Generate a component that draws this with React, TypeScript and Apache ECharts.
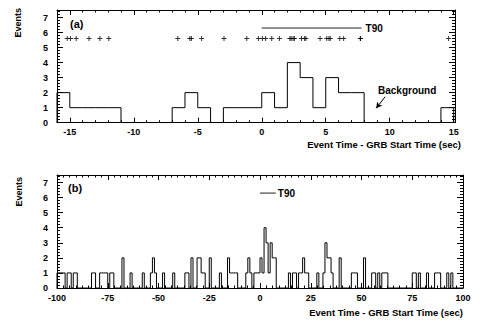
import React, { useEffect, useRef } from "react";
import * as echarts from "echarts";

// ---------- data ----------
// Panel (a): 1-s bins starting at -16 s
const topBinStart = -16;
const topCounts = [2, 1, 1, 1, 1, 0, 0, 0, 0, 1, 2, 1, 0, 1, 1, 1, 2, 1, 4, 3, 1, 3, 2, 2, 0, 0, 0, 0, 0, 0, 1];
// individual event times (crosses in panel a)
const eventTimes = [
  -15.2, -14.95, -14.5, -13.5, -12.65, -11.95, -6.56, -5.62, -5.5, -4.7, -2.95, -1.17, -0.26, 0.05, 0.3, 0.78,
  1.38, 2.2, 2.3, 2.45, 2.55, 3.1, 3.35, 3.45, 4.56, 5.08, 5.25, 5.35, 6.1, 6.4, 7.7, 7.72, 14.6,
];
const crossRowY = 5.6;
const t90Interval = [0, 7.8];
const t90RowY = 6.3;
// Panel (b): 1-s bins from -100 to 100, only non-empty bins listed [binStart, count]
const bottomNonZero: [number, number][] = [
  [-100, 1], [-99, 1], [-98, 1], [-97, 1], [-95, 1], [-94, 1], [-92, 1], [-91, 1],
  [-83, 1], [-82, 1], [-79, 1], [-78, 1], [-77, 1], [-76, 1], [-74, 1], [-73, 1],
  [-68, 2], [-64, 1], [-58, 1], [-54, 1], [-53, 2], [-52, 1], [-48, 1], [-43, 1],
  [-37, 1], [-36, 1], [-34, 2], [-31, 2], [-30, 2], [-29, 1], [-28, 1], [-25, 2], [-20, 1],
  [-16, 2], [-15, 1], [-14, 1], [-13, 1], [-12, 1], [-7, 1], [-6, 2], [-5, 1], [-3, 1], [-2, 1], [-1, 1],
  [0, 2], [1, 1], [2, 4], [3, 3], [4, 1], [5, 3], [6, 2], [7, 2], [14, 1], [16, 1], [17, 1],
  [19, 1], [20, 1], [21, 2], [22, 1], [23, 1], [28, 1], [31, 1], [32, 3], [33, 2], [34, 2], [35, 1],
  [39, 2], [45, 1], [46, 1], [47, 1], [51, 2], [55, 1], [56, 1], [58, 1], [60, 1], [61, 1], [62, 1],
  [75, 1], [76, 1], [78, 1], [82, 1], [86, 1], [87, 1], [88, 1], [92, 1], [94, 1],
];
const bottomBinStart = -100;
const bottomBinCount = 200;
// arrow for the "Background" annotation (data coords, panel a)
const backgroundArrow = [[9.64, 1.73], [8.94, 0.96]];

// ---------- axes ticks ----------
const topXRange = [-16, 15.1];
const bottomXRange = [-100, 100];
const yRange = [0, 7.5];
const topXMajor = [-15, -10, -5, 0, 5, 10, 15];
const bottomXMajor = [-100, -75, -50, -25, 0, 25, 50, 75, 100];
const yMajor = [0, 1, 2, 3, 4, 5, 6, 7];

function range(a: number, b: number, step: number) {
  const out: number[] = [];
  for (let v = a; v <= b + 1e-9; v += step) out.push(Math.round(v * 1000) / 1000);
  return out;
}
const topXMinor = range(-16, 15, 1);
const bottomXMinor = range(-100, 100, 25 / 8);
const yMinor = range(0, 7.4, 0.2);

function stepData(start: number, counts: number[]) {
  const d: number[][] = [[start, 0]];
  counts.forEach((c, i) => d.push([start + i, c]));
  d.push([start + counts.length, counts[counts.length - 1]]);
  d.push([start + counts.length, 0]);
  return d;
}

const bottomCounts = new Array(bottomBinCount).fill(0);
bottomNonZero.forEach(([b, c]) => {
  bottomCounts[b - bottomBinStart] = c;
});

const FONT = "Liberation Sans";
const black = "#000";
const labelFont = { fontFamily: FONT, fontWeight: "bold", fontSize: 9, color: black };

function xAxes(grid: number, r: number[], majors: number[], minors: number[]) {
  const base = { type: "value", gridIndex: grid, min: r[0], max: r[1], splitLine: { show: false } };
  const line = { show: true, onZero: false, lineStyle: { color: black, width: 1 } };
  const noLine = { show: false, onZero: false };
  return [
    { ...base, position: "bottom", axisLine: line, axisTick: { show: true, inside: true, length: 5, customValues: majors, lineStyle: { color: black } }, axisLabel: { show: true, customValues: majors, margin: 5, ...labelFont } },
    { ...base, position: "bottom", axisLine: noLine, axisTick: { show: true, inside: true, length: 2.5, customValues: minors, lineStyle: { color: black } }, axisLabel: { show: false } },
    { ...base, position: "top", axisLine: line, axisTick: { show: true, inside: true, length: 5, customValues: majors, lineStyle: { color: black } }, axisLabel: { show: false } },
    { ...base, position: "top", axisLine: noLine, axisTick: { show: true, inside: true, length: 2.5, customValues: minors, lineStyle: { color: black } }, axisLabel: { show: false } },
  ];
}
function yAxes(grid: number) {
  const base = { type: "value", gridIndex: grid, min: yRange[0], max: yRange[1], splitLine: { show: false } };
  const line = { show: true, onZero: false, lineStyle: { color: black, width: 1 } };
  const noLine = { show: false, onZero: false };
  return [
    { ...base, position: "left", axisLine: line, axisTick: { show: true, inside: true, length: 6, customValues: yMajor, lineStyle: { color: black } }, axisLabel: { show: true, customValues: yMajor, margin: 9, ...labelFont } },
    { ...base, position: "left", axisLine: noLine, axisTick: { show: true, inside: true, length: 3, customValues: yMinor, lineStyle: { color: black } }, axisLabel: { show: false } },
    { ...base, position: "right", axisLine: line, axisTick: { show: true, inside: true, length: 6, customValues: yMajor, lineStyle: { color: black } }, axisLabel: { show: false } },
    { ...base, position: "right", axisLine: noLine, axisTick: { show: true, inside: true, length: 3, customValues: yMinor, lineStyle: { color: black } }, axisLabel: { show: false } },
  ];
}

const xTitle = "Event Time - GRB Start Time (sec)";

const option: any = {
  animation: false,
  backgroundColor: "#fff",
  grid: [
    { left: 57, top: 10, width: 398, height: 112.7, containLabel: false },
    { left: 57, top: 175, width: 406, height: 113, containLabel: false },
  ],
  xAxis: [...xAxes(0, topXRange, topXMajor, topXMinor), ...xAxes(1, bottomXRange, bottomXMajor, bottomXMinor)],
  yAxis: [...yAxes(0), ...yAxes(1)],
  series: [
    {
      type: "line", xAxisIndex: 0, yAxisIndex: 0, step: "end", symbol: "none",
      lineStyle: { color: black, width: 1 }, data: stepData(topBinStart, topCounts),
      markLine: {
        silent: true, symbol: ["none", "arrow"], symbolSize: [5, 6],
        lineStyle: { color: black, width: 1, type: "solid" }, label: { show: false },
        data: [[{ coord: backgroundArrow[0] }, { coord: backgroundArrow[1] }]],
      },
    },
    {
      type: "scatter", xAxisIndex: 0, yAxisIndex: 0,
      symbol: "path://M0 2H5V3H0Z M2 0H3V5H2Z", symbolSize: 5,
      itemStyle: { color: black }, data: eventTimes.map((t) => [t, crossRowY]),
    },
    {
      type: "line", xAxisIndex: 0, yAxisIndex: 0, symbol: "none",
      lineStyle: { color: "#222", width: 1 },
      data: t90Interval.map((t) => [t, t90RowY]),
      endLabel: { show: true, formatter: "T90", distance: 4, fontFamily: FONT, fontWeight: "bold", fontSize: 10, color: black },
    },
    {
      type: "line", xAxisIndex: 4, yAxisIndex: 4, step: "end", symbol: "none",
      lineStyle: { color: black, width: 1 }, data: stepData(bottomBinStart, bottomCounts),
    },
    {
      type: "line", xAxisIndex: 4, yAxisIndex: 4, symbol: "none",
      lineStyle: { color: "#222", width: 1 },
      data: t90Interval.map((t) => [t, t90RowY]),
      endLabel: { show: true, formatter: "T90", distance: 2, fontFamily: FONT, fontWeight: "bold", fontSize: 10, color: black },
    },
  ],
  graphic: [
    { type: "text", x: 70, y: 24, style: { text: "(a)", fontFamily: FONT, fontWeight: "bold", fontSize: 11, fill: black, verticalAlign: "middle" } },
    { type: "text", x: 68, y: 188, style: { text: "(b)", fontFamily: FONT, fontWeight: "bold", fontSize: 11, fill: black, verticalAlign: "middle" } },
    { type: "text", x: 378, y: 90, style: { text: "Background", fontFamily: FONT, fontWeight: "bold", fontSize: 10, fill: black, verticalAlign: "middle" } },
    { type: "text", x: 18, y: 8, rotation: Math.PI / 2, style: { text: "Events", fontFamily: FONT, fontWeight: "bold", fontSize: 9, fill: black, align: "right", verticalAlign: "middle" } },
    { type: "text", x: 19, y: 177, rotation: Math.PI / 2, style: { text: "Events", fontFamily: FONT, fontWeight: "bold", fontSize: 9, fill: black, align: "right", verticalAlign: "middle" } },
    { type: "text", x: 461, y: 144, style: { text: xTitle, fontFamily: FONT, fontWeight: "bold", fontSize: 9.5, fill: black, align: "right", verticalAlign: "middle" } },
    { type: "text", x: 463, y: 312, style: { text: xTitle, fontFamily: FONT, fontWeight: "bold", fontSize: 9.5, fill: black, align: "right", verticalAlign: "middle" } },
  ],
};

export default function App() {
  const ref = useRef<HTMLDivElement>(null);
  useEffect(() => {
    const chart = echarts.init(ref.current!, undefined, { renderer: "svg" });
    chart.setOption(option);
    return () => chart.dispose();
  }, []);
  return (
    <div
      ref={ref}
      style={{ position: "fixed", left: 0, top: 0, width: 486, height: 327, background: "#fff" }}
    />
  );
}
